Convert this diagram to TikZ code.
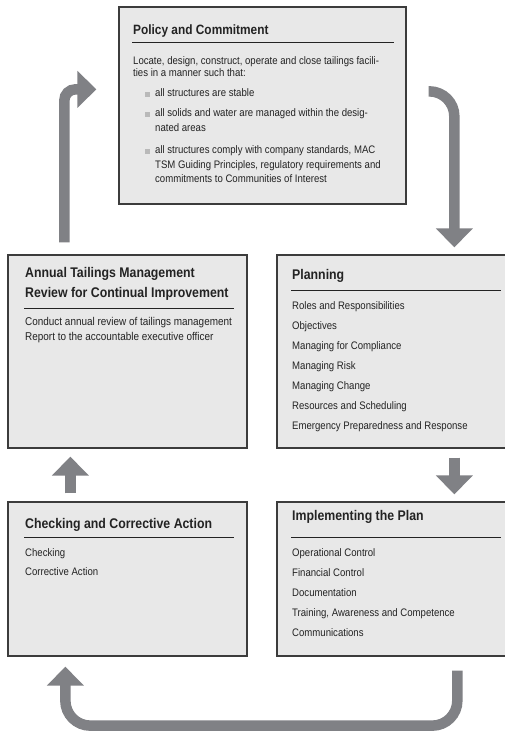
\documentclass[tikz,border=0pt]{standalone}
\usepackage{fontspec}
\setmainfont{Liberation Sans}[FakeStretch=0.88]
\usetikzlibrary{arrows.meta,calc}
\definecolor{boxfill}{RGB}{232,232,232}
\definecolor{boxline}{RGB}{60,60,60}
\definecolor{arrowgray}{RGB}{128,129,133}
\definecolor{txt}{RGB}{35,35,35}
\definecolor{bulletgray}{RGB}{185,185,185}
\begin{document}
\begin{tikzpicture}[x=1pt,y=-1pt,
  box/.style={draw=boxline, line width=1.3pt, fill=boxfill, inner sep=0pt, rectangle},
  ttl/.style={anchor=mid west, inner sep=0pt, text=txt, font=\fontsize{14}{16}\selectfont\bfseries},
  txtline/.style={anchor=mid west, inner sep=0pt, text=txt, font=\fontsize{10.9}{13}\selectfont},
  hrule/.style={draw=txt, line width=1.3pt},
  flow/.style={draw=arrowgray, line width=10.5pt, -{Triangle[width=36pt,length=19pt]}},
  bsq/.style={fill=bulletgray, inner sep=0pt, minimum size=5pt}
]
\useasboundingbox (0,0) rectangle (504,731);
\fill[white] (0,0) rectangle (504,731);

% boxes
\node[box, minimum width=287pt, minimum height=197pt] (policy) at (262.5,105.5) {};
\node[box, minimum width=239pt, minimum height=193pt] (annual) at (127.5,351.5) {};
\node[box, minimum width=237pt, minimum height=193pt] (plan) at (395.5,351.5) {};
\node[box, minimum width=239pt, minimum height=154pt] (check) at (127.5,579) {};
\node[box, minimum width=237pt, minimum height=154pt] (impl) at (395.5,579) {};

% Policy and Commitment
\node[ttl, font=\fontsize{13.5}{16}\selectfont\bfseries] (pt) at (133,32) {Policy and Commitment};
\draw[hrule] ($(policy.north west)+(14,36)$) -- ($(policy.north east)+(-13,36)$);
\node[txtline] (p1) at (133,62) {Locate, design, construct, operate and close tailings facili-};
\node[txtline] (p2) at (133,74) {ties in a manner such that:};
\node[bsq] (pb1) at (147.5,94) {};
\node[txtline] (p3) at (155,94) {all structures are stable};
\node[bsq] (pb2) at (147.5,114) {};
\node[txtline] (p4) at (155,114) {all solids and water are managed within the desig-};
\node[txtline] (p5) at (155,129) {nated areas};
\node[bsq] (pb3) at (147.5,151) {};
\node[txtline] (p6) at (155,151) {all structures comply with company standards, MAC};
\node[txtline] (p7) at (155,166) {TSM Guiding Principles, regulatory requirements and};
\node[txtline] (p8) at (155,180) {commitments to Communities of Interest};

% Annual review
\node[ttl] (at1) at (25,275) {Annual Tailings Management};
\node[ttl] (at2) at (25,295) {Review for Continual Improvement};
\draw[hrule] ($(annual.north west)+(17,54)$) -- ($(annual.north east)+(-14,54)$);
\node[txtline, font=\fontsize{11.3}{13}\selectfont] (a1) at (25,323) {Conduct annual review of tailings management};
\node[txtline, font=\fontsize{11.3}{13}\selectfont] (a2) at (25,338) {Report to the accountable executive officer};

% Planning
\node[ttl] (plt) at (292,277) {Planning};
\draw[hrule] ($(plan.north west)+(15,36)$) -- ($(plan.north east)+(-14,36)$);
\node[txtline] (pl1) at (292,307) {Roles and Responsibilities};
\node[txtline] (pl2) at (292,327) {Objectives};
\node[txtline] (pl3) at (292,347) {Managing for Compliance};
\node[txtline] (pl4) at (292,367) {Managing Risk};
\node[txtline] (pl5) at (292,387) {Managing Change};
\node[txtline] (pl6) at (292,407) {Resources and Scheduling};
\node[txtline] (pl7) at (292,427) {Emergency Preparedness and Response};

% Checking
\node[ttl] (ct) at (25,526) {Checking and Corrective Action};
\draw[hrule] ($(check.north west)+(17,36)$) -- ($(check.north east)+(-14,36)$);
\node[txtline] (c1) at (25,554) {Checking};
\node[txtline] (c2) at (25,573) {Corrective Action};

% Implementing
\node[ttl] (it) at (292,518) {Implementing the Plan};
\draw[hrule] ($(impl.north west)+(15,36)$) -- ($(impl.north east)+(-14,36)$);
\node[txtline] (i1) at (292,554) {Operational Control};
\node[txtline] (i2) at (292,574) {Financial Control};
\node[txtline] (i3) at (292,594) {Documentation};
\node[txtline] (i4) at (292,614) {Training, Awareness and Competence};
\node[txtline] (i5) at (292,634) {Communications};

% connector end points
\coordinate (f1s) at ($(policy.north east)+(22,85)$);
\coordinate (f1e) at ($(plan.north west)+(178,-7)$);
\coordinate (f2s) at ($(plan.south west)+(178,9)$);
\coordinate (f2e) at ($(impl.north west)+(178,-7)$);
\coordinate (f3s) at ($(impl.south west)+(181,14)$);
\coordinate (f3b) at ($(f3s)+(0,55)$);
\coordinate (f3e) at ($(check.south west)+(58,10)$);
\coordinate (f4s) at ($(check.north west)+(63,-8)$);
\coordinate (f4e) at ($(annual.south west)+(63,8)$);
\coordinate (f5s) at ($(annual.north west)+(57,-12)$);
\coordinate (f5e) at ($(policy.north west)+(-22,83)$);

% connectors
\draw[flow, rounded corners=25pt] (f1s) -- (f1s -| f1e) -- (f1e);
\draw[flow] (f2s) -- (f2e);
\draw[flow, rounded corners=25pt] (f3s) -- (f3b) -- (f3b -| f3e) -- (f3e);
\draw[flow] (f4s) -- (f4e);
\draw[flow, rounded corners=11pt] (f5s) -- (f5s |- f5e) -- (f5e);
\end{tikzpicture}
\end{document}
